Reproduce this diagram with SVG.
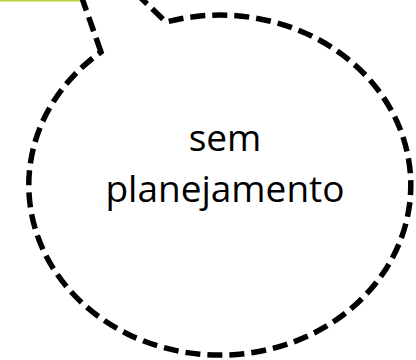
<svg xmlns="http://www.w3.org/2000/svg" width="416" height="360" viewBox="0 0 416 360">
<style>
.bubble{fill:#fff;stroke:#000;stroke-width:5.5;stroke-dasharray:15 7;stroke-linejoin:miter}
.lbl{font-family:"Open Sans","Liberation Sans",sans-serif;font-size:37px;fill:#000;text-anchor:middle}
</style>
<rect x="0" y="0" width="82" height="1.5" fill="#b8d640"/>
<g id="callout">
<path class="bubble" d="M 101 52 L 52 -87 L 166 22 A 191 170 0 1 1 101 52 Z"/>
<text class="lbl" x="225" y="151">sem</text>
<text class="lbl" x="225" y="202">planejamento</text>
</g>
</svg>
